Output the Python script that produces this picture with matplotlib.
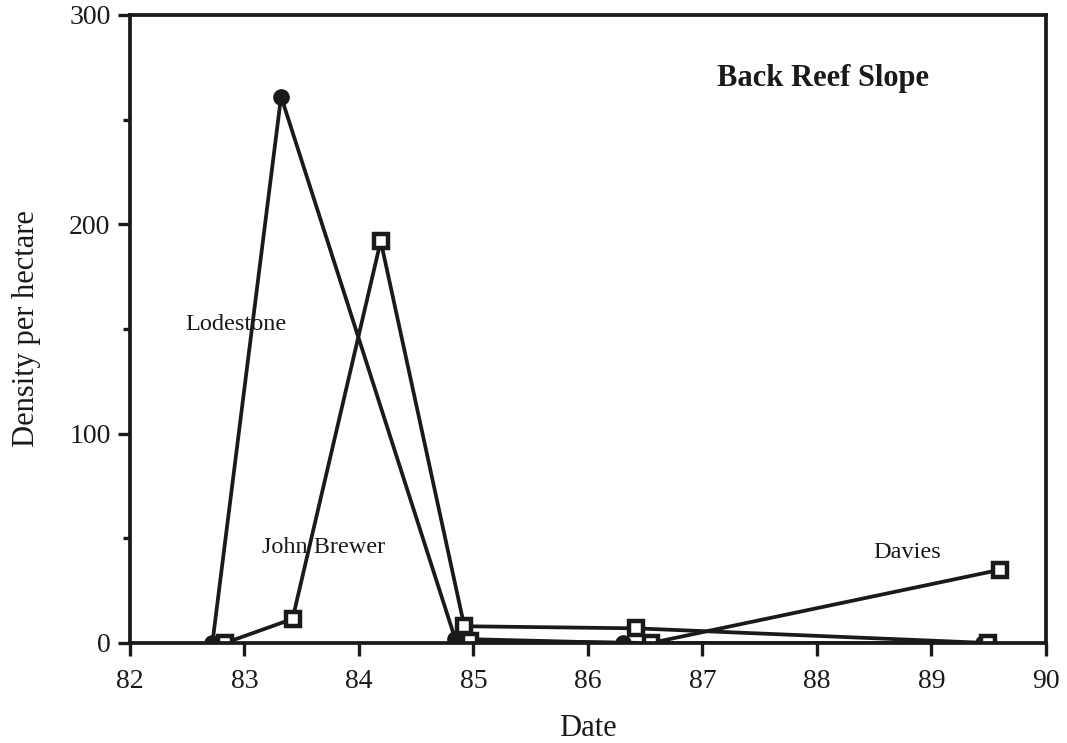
import matplotlib.pyplot as plt
from matplotlib.ticker import MultipleLocator

# data
lode_x = [82.72, 83.32, 84.84, 86.31, 89.45]
lode_y = [0, 261, 2, 0, 0]
jb_x = [82.83, 83.42, 84.19, 84.92, 86.42, 89.49]
jb_y = [0, 11.5, 192, 8, 7, 0]
dav_x = [84.97, 86.55, 89.6]
dav_y = [1, 0, 35]

ink = '#1a1a1a'
plt.rcParams['font.family'] = ['Liberation Serif', 'DejaVu Serif']

fig = plt.figure(figsize=(10.67, 7.43), dpi=100)
ax = fig.add_axes([0.1218, 0.1346, 0.8585, 0.8454])

ax.plot(lode_x, lode_y, color=ink, lw=2.7, marker='o', ms=11, mfc=ink, mec=ink)
ax.plot(jb_x, jb_y, color=ink, lw=2.7, marker='s', ms=10, mfc='white', mec=ink, mew=3.2)
ax.plot(dav_x, dav_y, color=ink, lw=2.7, marker='s', ms=10, mfc='white', mec=ink, mew=3.2)

ax.set_xlim(82, 90)
ax.set_ylim(0, 300)
ax.xaxis.set_major_locator(MultipleLocator(1))
ax.yaxis.set_major_locator(MultipleLocator(100))
ax.yaxis.set_minor_locator(MultipleLocator(50))
ax.tick_params(axis='both', which='major', direction='out', length=9, width=2.4, colors=ink, labelsize=20)
ax.tick_params(axis='x', which='major', pad=10)
ax.tick_params(axis='y', which='major', pad=5)
ax.tick_params(axis='y', which='minor', direction='out', length=5, width=2.4, colors=ink)
for s in ax.spines.values():
    s.set_linewidth(2.7)
    s.set_color(ink)

ax.set_xlabel('Date', fontsize=22, color=ink, labelpad=14)
ax.set_ylabel('Density per hectare', fontsize=22, color=ink, labelpad=20)

ax.text(87.13, 266, 'Back Reef Slope', fontsize=22, fontweight='bold', color=ink)
ax.text(82.48, 149.5, 'Lodestone', fontsize=17.5, color=ink)
ax.text(83.15, 43, 'John Brewer', fontsize=17.5, color=ink)
ax.text(88.49, 40.6, 'Davies', fontsize=17.5, color=ink)

fig.savefig('out.png', dpi=100)
